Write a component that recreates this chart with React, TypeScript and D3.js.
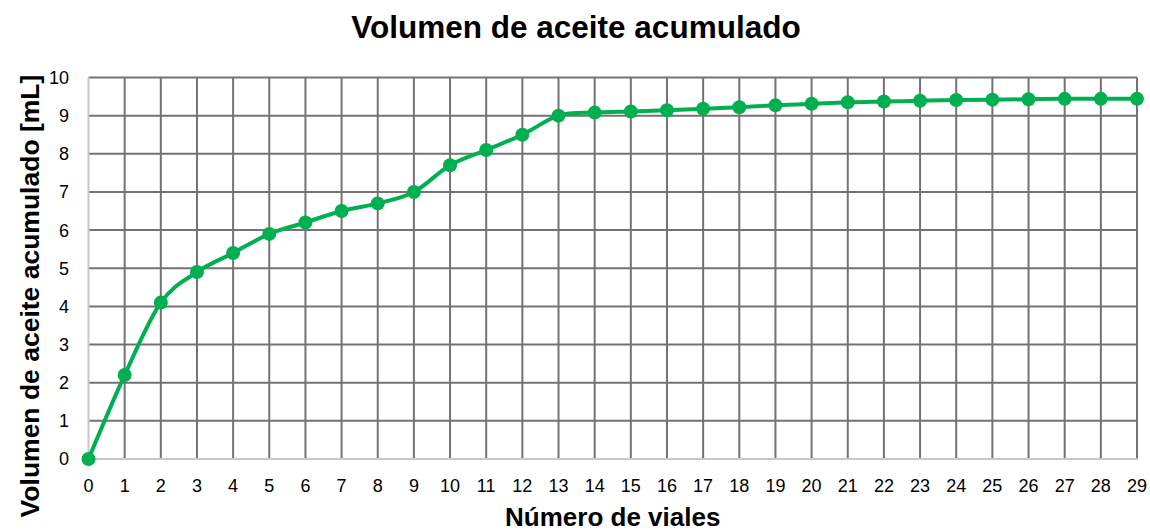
import React from "react";
import * as d3 from "d3";

const viales: number[] = Array.from({ length: 30 }, (_, i) => i);
const volumen: number[] = [
  0, 2.2, 4.1, 4.9, 5.4, 5.9, 6.2, 6.5, 6.7, 7.0, 7.7, 8.1, 8.5, 9.0, 9.08,
  9.11, 9.14, 9.18, 9.22, 9.27, 9.31, 9.35, 9.37, 9.39, 9.41, 9.42, 9.43,
  9.44, 9.44, 9.44,
];
const yTicks: number[] = [0, 1, 2, 3, 4, 5, 6, 7, 8, 9, 10];
const title = "Volumen de aceite acumulado";
const xTitle = "Número de viales";
const yTitle = "Volumen de aceite acumulado [mL]";

const W = 1150;
const H = 531;
const left = 88.5;
const right = 1137;
const top = 77.5;
const bottom = 459;
const green = "#00B050";
const font = "'Liberation Sans', Arial, sans-serif";

export default function App() {
  const x = d3.scaleLinear().domain([0, 29]).range([left, right]);
  const y = d3.scaleLinear().domain([0, 10]).range([bottom, top]);
  const line = d3
    .line<number>()
    .x((_, i) => x(viales[i]))
    .y((d) => y(d))
    .curve(d3.curveCardinal.tension(0));

  return (
    <svg
      width={W}
      height={H}
      style={{ position: "absolute", left: 0, top: 0, background: "#fff" }}
      fontFamily={font}
    >
      <rect x={0} y={0} width={W} height={H} fill="#fff" />
      {yTicks.filter((t) => t > 0).map((t) => (
        <line key={"h" + t} x1={left} x2={right} y1={y(t)} y2={y(t)} stroke="#777171" strokeWidth={2} />
      ))}
      {viales.filter((v) => v > 0).map((v) => (
        <line key={"v" + v} x1={x(v)} x2={x(v)} y1={top} y2={bottom} stroke="#777171" strokeWidth={2} />
      ))}
      <line x1={left} x2={right + 1} y1={bottom} y2={bottom} stroke="#c8c8c8" strokeWidth={2} />
      <line x1={left} x2={left} y1={top} y2={bottom} stroke="#c8c8c8" strokeWidth={2} />
      {yTicks.map((t) => (
        <text key={"yl" + t} x={69} y={y(t)} dy="0.36em" textAnchor="end" fontSize={18} fill="#000">
          {t}
        </text>
      ))}
      {viales.map((v) => (
        <text key={"xl" + v} x={x(v)} y={492} textAnchor="middle" fontSize={18} fill="#000">
          {v}
        </text>
      ))}
      <path d={line(volumen) || ""} fill="none" stroke={green} strokeWidth={4} strokeLinejoin="round" />
      {volumen.map((d, i) => (
        <circle key={"c" + i} cx={x(viales[i])} cy={y(d)} r={7} fill={green} />
      ))}
      <text x={576} y={38} textAnchor="middle" fontSize={31.5} fontWeight="bold" fill="#000">
        {title}
      </text>
      <text x={(left + right) / 2} y={526} textAnchor="middle" fontSize={26} fontWeight="bold" fill="#000">
        {xTitle}
      </text>
      <text
        transform={`translate(39, ${296}) rotate(-90)`}
        textAnchor="middle"
        fontSize={26.5}
        fontWeight="bold"
        fill="#000"
      >
        {yTitle}
      </text>
    </svg>
  );
}
